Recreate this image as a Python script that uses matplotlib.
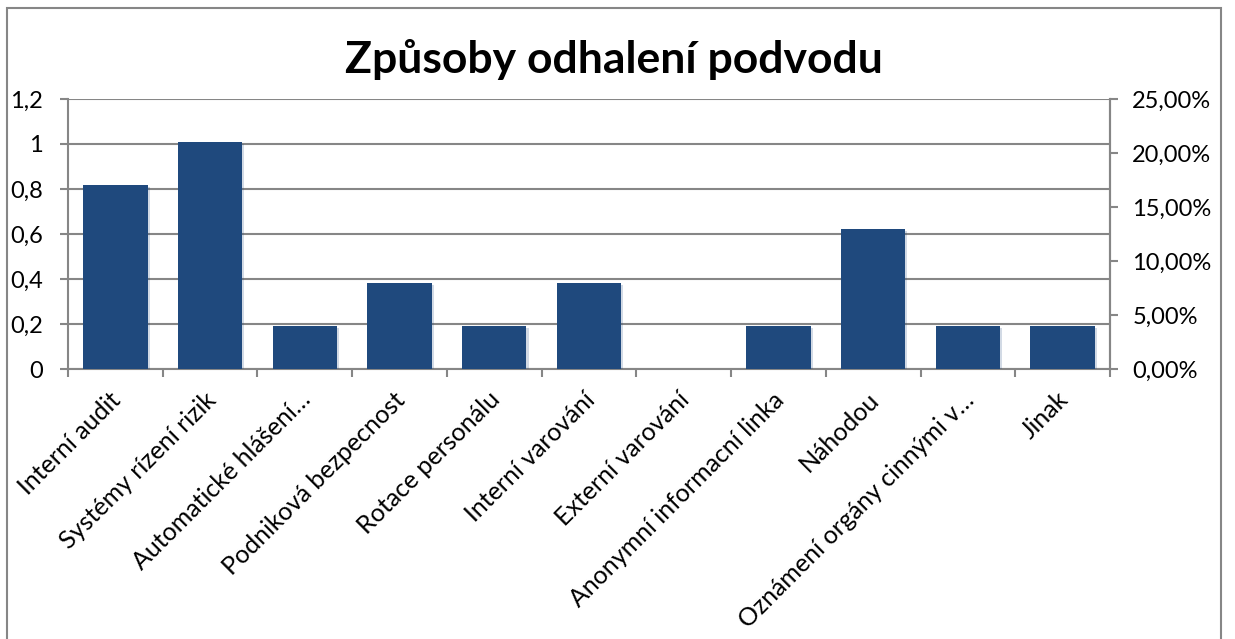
import matplotlib.pyplot as plt
import matplotlib.patheffects as pe
from matplotlib.patches import Rectangle
from matplotlib.transforms import ScaledTranslation

categories = [
    "Interní audit",
    "Systémy rízení rizik",
    "Automatické hlášení…",
    "Podniková bezpecnost",
    "Rotace personálu",
    "Interní varování",
    "Externí varování",
    "Anonymní informacní linka",
    "Náhodou",
    "Oznámení orgány cinnými v…",
    "Jinak",
]
# share of cases (%), plotted against the right axis
shares = [17, 21, 4, 8, 4, 8, 0, 4, 13, 4, 4]

left_ticks = [0, 0.2, 0.4, 0.6, 0.8, 1.0, 1.2]
left_labels = ["0", "0,2", "0,4", "0,6", "0,8", "1", "1,2"]
right_ticks = [0, 5, 10, 15, 20, 25]
right_labels = ["0,00%", "5,00%", "10,00%", "15,00%", "20,00%", "25,00%"]

W, H = 1235, 639
grey = "#868686"
bar_color = "#1F497D"
plt.rcParams["font.family"] = ["Lato", "DejaVu Sans"]

fig = plt.figure(figsize=(W / 100, H / 100), dpi=100)

# outer chart border
fig.patches.append(Rectangle((7 / W, -0.02), (1221 - 7) / W, 1 - 8 / H + 0.02,
                             transform=fig.transFigure, fill=False,
                             edgecolor=grey, linewidth=1.5))

ax = fig.add_axes([68 / W, (H - 369) / H, (1110 - 68) / W, (369 - 99) / H])
ax.set_xlim(-0.5, len(categories) - 0.5)
ax.set_ylim(0, 1.2)
ax.set_yticks(left_ticks)
ax.set_yticklabels(left_labels, fontsize=17)
ax.grid(axis="y", color=grey, linewidth=1.5)
ax.set_axisbelow(True)
for s in ax.spines.values():
    s.set_color(grey)
    s.set_linewidth(1.5)
ax.spines["top"].set_visible(False)
ax.tick_params(axis="y", length=6, width=1.5, color=grey, pad=12)

x = list(range(len(categories)))
ax.set_xticks(x)
ax.set_xticklabels(categories, fontsize=18, rotation=45, ha="right",
                   va="center", rotation_mode="anchor")
ax.tick_params(axis="x", which="major", length=0, pad=0)
ax.set_xticks([i - 0.5 for i in range(len(categories) + 1)], minor=True)
ax.tick_params(axis="x", which="minor", length=6, width=1.5, color=grey)
shift = ScaledTranslation(0.02, -0.27, fig.dpi_scale_trans)
for lab in ax.get_xticklabels():
    lab.set_transform(lab.get_transform() + shift)

ax2 = ax.twinx()
ax2.set_ylim(0, 25)
ax2.set_yticks(right_ticks)
ax2.set_yticklabels(right_labels, fontsize=17)
ax2.tick_params(axis="y", length=6, width=1.5, color=grey, pad=10)
for s in ax2.spines.values():
    s.set_visible(False)
ax2.spines["right"].set_visible(True)
ax2.spines["right"].set_color(grey)
ax2.spines["right"].set_linewidth(1.5)

bars = ax2.bar(x, shares, width=0.68, color=bar_color)
for b in bars:
    b.set_path_effects([pe.SimplePatchShadow(offset=(1.5, -1.5), shadow_rgbFace=bar_color,
                                             alpha=0.2), pe.Normal()])

fig.text(614 / W, 1 - 60 / H, "Způsoby odhalení podvodu", ha="center", va="center",
         fontsize=32, fontweight="bold")

fig.savefig("out.png", dpi=100)
